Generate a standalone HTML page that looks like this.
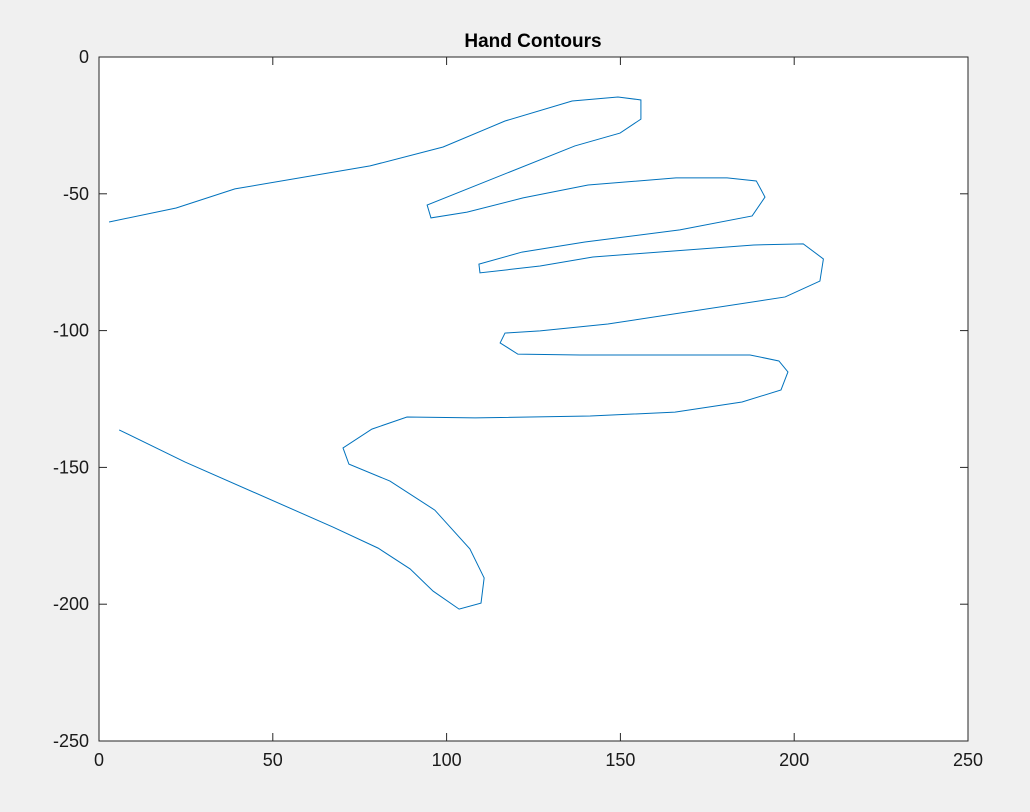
<!DOCTYPE html>
<html><head><meta charset="utf-8"><style>
body{margin:0;background:#f0f0f0;}
svg{display:block;font-family:"Liberation Sans",sans-serif;}
</style></head><body>
<svg width="1030" height="812" viewBox="0 0 1030 812">
<rect width="1030" height="812" fill="#f0f0f0"/>
<rect x="99" y="57" width="869" height="684" fill="#fff"/>
<g id="marks"></g>
<rect x="99" y="57" width="869" height="684" fill="none" stroke="#262626" stroke-width="1"/>
<g id="ticks"></g>
<text x="533" y="47" text-anchor="middle" font-size="19" font-weight="bold" fill="#000">Hand Contours</text>
</svg>
<script>
const xTicks=[0,50,100,150,200,250];
const yTicks=[0,-50,-100,-150,-200,-250];
const xs=[2.9,22.2,39.1,78.0,99.0,116.8,136.1,149.3,155.9,155.9,149.9,136.9,94.4,95.5,105.9,122.0,140.7,166.0,180.7,189.1,191.6,187.9,167.1,139.8,121.7,109.3,109.6,126.9,142.1,188.4,202.6,208.4,207.4,197.4,146.4,126.9,116.8,115.4,120.5,138.4,187.3,195.6,198.2,196.2,185.0,165.7,141.3,108.2,88.6,78.5,70.2,71.9,83.7,96.6,106.7,110.8,109.9,103.6,96.1,89.5,80.3,67.3,24.7,5.8];
const ys=[-60.3,-55.2,-48.2,-39.8,-32.9,-23.4,-16.1,-14.6,-15.7,-22.7,-27.8,-32.5,-54.1,-58.8,-56.7,-51.5,-46.8,-44.2,-44.2,-45.3,-51.2,-58.1,-63.2,-67.6,-71.3,-75.7,-78.9,-76.4,-73.1,-68.7,-68.3,-73.8,-81.9,-87.7,-97.6,-100.1,-100.9,-104.5,-108.6,-108.9,-108.9,-111.1,-115.1,-121.7,-126.1,-129.8,-131.2,-131.9,-131.6,-136.0,-142.9,-148.8,-155.0,-165.6,-179.8,-190.4,-199.6,-201.8,-195.2,-187.1,-179.5,-171.8,-148.0,-136.3];
const L=99,T=57,W=869,H=684;
const X=v=>L+(v-0)/250*W;
const Y=v=>T+(0-v)/250*H;
const NS="http://www.w3.org/2000/svg";
const marks=document.getElementById('marks');
const pl=document.createElementNS(NS,'polyline');


pl.setAttribute('points',xs.map((x,i)=>X(x)+','+Y(ys[i])).join(' '));
pl.setAttribute('fill','none');pl.setAttribute('stroke','#0072bd');pl.setAttribute('stroke-width','1');
marks.appendChild(pl);
const tg=document.getElementById('ticks');
xTicks.forEach(t=>{
 const x=X(t);
 [[T+H,T+H-8],[T,T+8]].forEach(([a,b])=>{const l=document.createElementNS(NS,'line');
 
 
 l.setAttribute('x1',x);l.setAttribute('x2',x);l.setAttribute('y1',a);l.setAttribute('y2',b);l.setAttribute('stroke','#262626');tg.appendChild(l);});
 const tx=document.createElementNS(NS,'text');
 
 
 tx.setAttribute('x',x);tx.setAttribute('y',T+H+25);tx.setAttribute('text-anchor','middle');tx.setAttribute('font-size','18');tx.setAttribute('fill','#1a1a1a');tx.textContent=t;tg.appendChild(tx);
});
yTicks.forEach(t=>{
 const y=Y(t);
 [[L,L+8],[L+W,L+W-8]].forEach(([a,b])=>{const l=document.createElementNS(NS,'line');
 
 
 l.setAttribute('x1',a);l.setAttribute('x2',b);l.setAttribute('y1',y);l.setAttribute('y2',y);l.setAttribute('stroke','#262626');tg.appendChild(l);});
 const tx=document.createElementNS(NS,'text');
 
 
 tx.setAttribute('x',L-10);tx.setAttribute('y',y+6);tx.setAttribute('text-anchor','end');tx.setAttribute('font-size','18');tx.setAttribute('fill','#1a1a1a');tx.textContent=t;tg.appendChild(tx);
});
</script>
</body></html>
